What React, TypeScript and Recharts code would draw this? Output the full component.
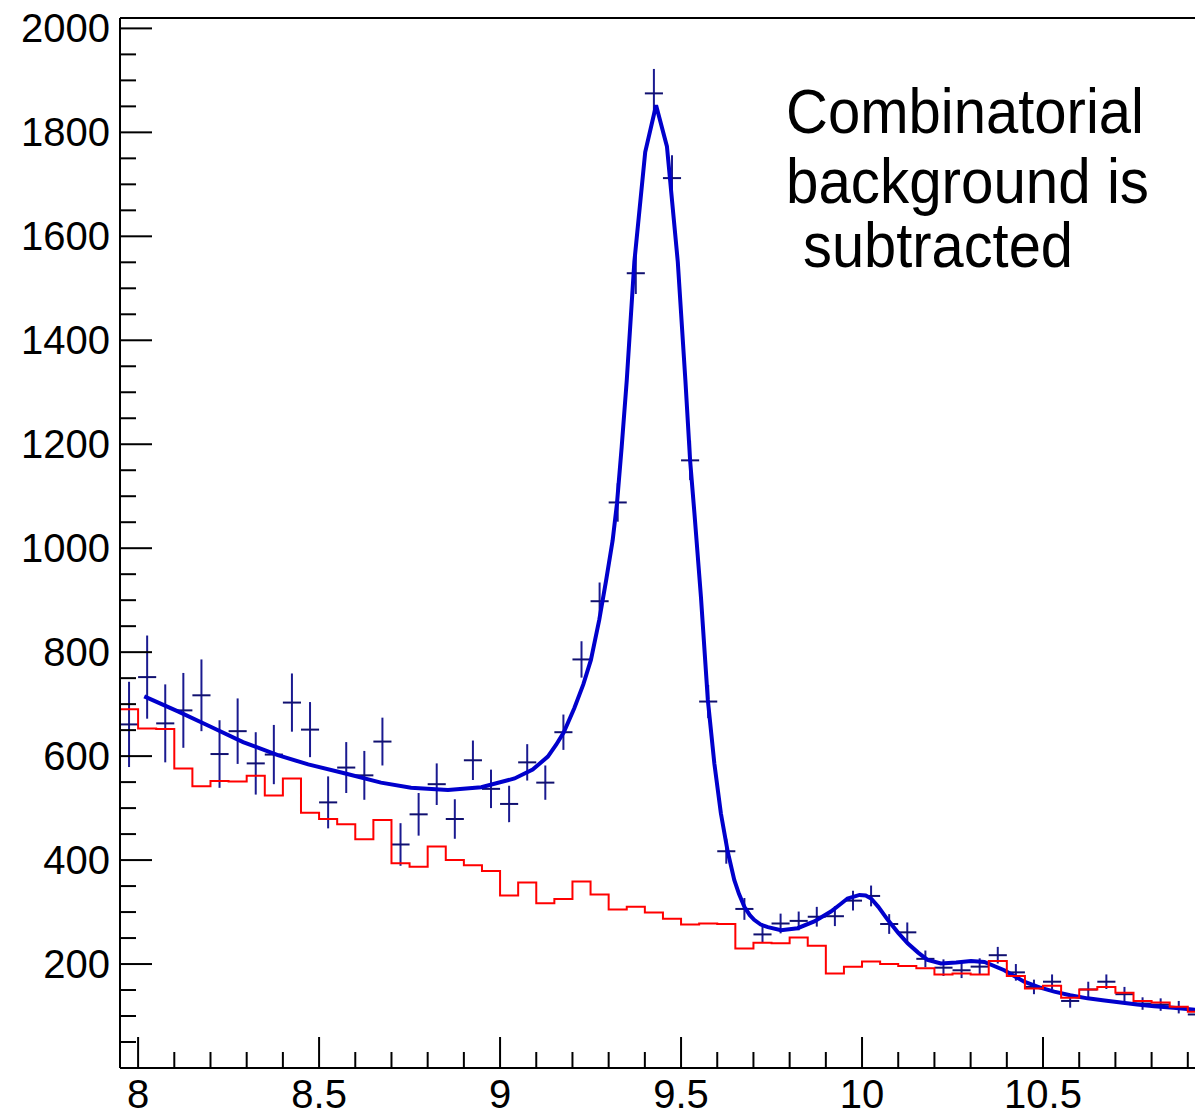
import {
  ComposedChart,
  ErrorBar,
  Line,
  ReferenceLine,
  Scatter,
  XAxis,
  YAxis,
} from "recharts";

const FONT = "'Liberation Sans', Arial, Helvetica, sans-serif";

// data points (bin centres, counts after subtraction, stat errors)
const binCenters = [
  7.975, 8.025, 8.075, 8.125, 8.175, 8.225, 8.275, 8.325, 8.375, 8.425,
  8.475, 8.525, 8.575, 8.625, 8.675, 8.725, 8.775, 8.825, 8.875, 8.925,
  8.975, 9.025, 9.075, 9.125, 9.175, 9.225, 9.275, 9.325, 9.375, 9.425,
  9.475, 9.525, 9.575, 9.625, 9.675, 9.725, 9.775, 9.825, 9.875, 9.925,
  9.975, 10.025, 10.075, 10.125, 10.175, 10.225, 10.275, 10.325, 10.375,
  10.425, 10.475, 10.525, 10.575, 10.625, 10.675, 10.725, 10.775, 10.825,
  10.875, 10.925,
];
const counts = [
  661, 752, 663, 688, 717, 604, 648, 586, 603, 703,
  651, 511, 578, 563, 628, 430, 488, 546, 479, 592,
  537, 508, 588, 549, 646, 786, 898, 1088, 1529, 1875,
  1712, 1169, 705, 417, 306, 257, 278, 283, 291, 292,
  322, 331, 277, 261, 210, 193, 188, 195, 217,
  184, 156, 166, 129, 151, 166, 142, 124, 122,
  117, 103,
];
const countErrors = [
  82, 80, 75, 72, 69, 65, 63, 60, 57, 56,
  53, 50, 49, 47, 46, 41, 41, 40, 38, 38,
  37, 35, 35, 33, 34, 35, 36, 37, 40, 47,
  44, 38, 32, 24, 21, 16, 19, 18, 19, 19,
  19, 20, 19, 19, 16, 16, 15, 16, 16,
  16, 14, 14, 13, 15, 14, 14, 12, 12,
  12, 11,
];
const binHalfWidth = 0.025;

// red histogram: left bin edges and contents
const histEdges = [
  7.95, 8.0, 8.05, 8.1, 8.15, 8.2, 8.25, 8.3, 8.35, 8.4,
  8.45, 8.5, 8.55, 8.6, 8.65, 8.7, 8.75, 8.8, 8.85, 8.9,
  8.95, 9.0, 9.05, 9.1, 9.15, 9.2, 9.25, 9.3, 9.35, 9.4,
  9.45, 9.5, 9.55, 9.6, 9.65, 9.7, 9.75, 9.8, 9.85, 9.9,
  9.95, 10.0, 10.05, 10.1, 10.15, 10.2, 10.25, 10.3, 10.35, 10.4,
  10.45, 10.5, 10.55, 10.6, 10.65, 10.7, 10.75, 10.8, 10.85, 10.9,
  10.95,
];
const histValues = [
  690, 653, 652, 576, 542, 552, 551, 562, 524, 557,
  491, 479, 469, 440, 477, 394, 387, 426, 400, 390,
  379, 332, 357, 317, 325, 359, 334, 305, 310, 299,
  287, 276, 278, 277, 230, 241, 240, 251, 235, 182,
  195, 205, 200, 196, 192, 180, 182, 180, 206, 177,
  153, 158, 135, 151, 156, 145, 129, 126, 118, 108,
  108,
];

// fitted curve
const curveX = [
  8.017, 8.11, 8.202, 8.29, 8.386, 8.47, 8.57, 8.671, 8.754, 8.856,
  8.948, 9.04, 9.09, 9.132, 9.155, 9.176, 9.205, 9.23, 9.251, 9.274,
  9.293, 9.311, 9.323, 9.336, 9.35, 9.371, 9.401, 9.431, 9.461, 9.491,
  9.512, 9.525, 9.537, 9.555, 9.574, 9.592, 9.61, 9.629, 9.647, 9.66,
  9.675, 9.69, 9.702, 9.72, 9.74, 9.776, 9.822, 9.868, 9.914, 9.94,
  9.96, 9.993, 10.01, 10.025, 10.045, 10.071, 10.1, 10.126, 10.155, 10.181,
  10.218, 10.26, 10.301, 10.338, 10.393, 10.448, 10.49, 10.531, 10.575, 10.623,
  10.67, 10.715, 10.76, 10.807, 10.86, 10.923,
];
const curveY = [
  715, 686, 656, 627, 602, 584, 567, 549, 539, 535,
  540, 557, 574, 599, 622, 646, 692, 738, 785, 862,
  938, 1015, 1086, 1195, 1323, 1551, 1762, 1852, 1773, 1551,
  1323, 1169, 1067, 906, 708, 586, 490, 416, 362, 335,
  310, 294, 285, 276, 271, 265, 269, 282, 301, 315,
  326, 333, 332, 326, 310, 285, 260, 240, 222, 208,
  201, 203, 206, 204, 188, 166, 155, 147, 140, 134,
  130, 126, 122, 119, 116, 112,
];

const xTicks = [
  8.0, 8.1, 8.2, 8.3, 8.4, 8.5, 8.6, 8.7, 8.8, 8.9,
  9.0, 9.1, 9.2, 9.3, 9.4, 9.5, 9.6, 9.7, 9.8, 9.9,
  10.0, 10.1, 10.2, 10.3, 10.4, 10.5, 10.6, 10.7, 10.8, 10.9, 11.0,
];
const yTicks = [
  50, 100, 150, 200, 250, 300, 350, 400, 450, 500,
  550, 600, 650, 700, 750, 800, 850, 900, 950, 1000,
  1050, 1100, 1150, 1200, 1250, 1300, 1350, 1400, 1450, 1500,
  1550, 1600, 1650, 1700, 1750, 1800, 1850, 1900, 1950, 2000,
];

const noteLines = ["Combinatorial", "background is", "subtracted"];

const points = binCenters.map((x, i) => ({
  x,
  y: counts[i],
  ey: countErrors[i],
  ex: binHalfWidth,
}));
const hist = histEdges.map((x, i) => ({ x, y: histValues[i] }));
const curve = curveX.map((x, i) => ({ x, y: curveY[i] }));

function YTick({ x, y, payload }: any) {
  const v = payload.value as number;
  const major = v % 200 === 0;
  return (
    <g>
      <line x1={x} x2={x + (major ? 32 : 16)} y1={y} y2={y} stroke="#000" strokeWidth={2} />
      {major && (
        <text x={x - 10} y={y + 14} textAnchor="end" fontSize={40} fontFamily={FONT} fill="#000">
          {v}
        </text>
      )}
    </g>
  );
}

function XTick({ x, y, payload }: any) {
  const v = payload.value as number;
  const major = Math.abs(v * 2 - Math.round(v * 2)) < 1e-6;
  return (
    <g>
      <line x1={x} x2={x} y1={y} y2={y - (major ? 31 : 16)} stroke="#000" strokeWidth={2} />
      {major && v < 10.95 && (
        <text x={x} y={y + 40} textAnchor="middle" fontSize={40} fontFamily={FONT} fill="#000">
          {v}
        </text>
      )}
    </g>
  );
}

export default function App() {
  return (
    <div
      style={{
        position: "absolute",
        left: 0,
        top: 0,
        width: 1195,
        height: 1113,
        overflow: "hidden",
        background: "#fff",
      }}
    >
      <ComposedChart
        width={1224}
        height={1113}
        margin={{ top: 18, right: 0, bottom: 0, left: 0 }}
      >
        <XAxis
          dataKey="x"
          type="number"
          domain={[7.95, 11.0]}
          allowDataOverflow
          ticks={xTicks}
          interval={0}
          tickSize={0}
          tickMargin={0}
          tick={<XTick />}
          height={45}
          axisLine={{ stroke: "#000", strokeWidth: 2 }}
        />
        <YAxis
          type="number"
          domain={[0, 2020]}
          allowDataOverflow
          ticks={yTicks}
          interval={0}
          tickSize={0}
          tickMargin={0}
          tick={<YTick />}
          width={120}
          axisLine={{ stroke: "#000", strokeWidth: 2 }}
        />
        <ReferenceLine y={2020} stroke="#000" strokeWidth={2} />
        <Scatter data={points} dataKey="y" shape={() => <g />} isAnimationActive={false}>
          <ErrorBar dataKey="ey" direction="y" width={0} stroke="#1a1a90" strokeWidth={2} isAnimationActive={false} />
          <ErrorBar dataKey="ex" direction="x" width={0} stroke="#101070" strokeWidth={2} isAnimationActive={false} />
        </Scatter>
        <Line
          data={curve}
          dataKey="y"
          type="linear"
          stroke="#0000cc"
          strokeWidth={4}
          dot={false}
          isAnimationActive={false}
        />
        <Line
          data={hist}
          dataKey="y"
          type="stepAfter"
          stroke="#ff0000"
          strokeWidth={2}
          dot={false}
          isAnimationActive={false}
        />
      </ComposedChart>
      <svg
        width={1195}
        height={1113}
        style={{ position: "absolute", left: 0, top: 0, pointerEvents: "none" }}
      >
        <text x={786} y={133} fontSize={63} fontFamily={FONT} fill="#000" textLength={358} lengthAdjust="spacingAndGlyphs">
          {noteLines[0]}
        </text>
        <text x={786} y={203} fontSize={63} fontFamily={FONT} fill="#000" textLength={363} lengthAdjust="spacingAndGlyphs">
          {noteLines[1]}
        </text>
        <text x={803} y={267} fontSize={63} fontFamily={FONT} fill="#000" textLength={270} lengthAdjust="spacingAndGlyphs">
          {noteLines[2]}
        </text>
      </svg>
    </div>
  );
}
